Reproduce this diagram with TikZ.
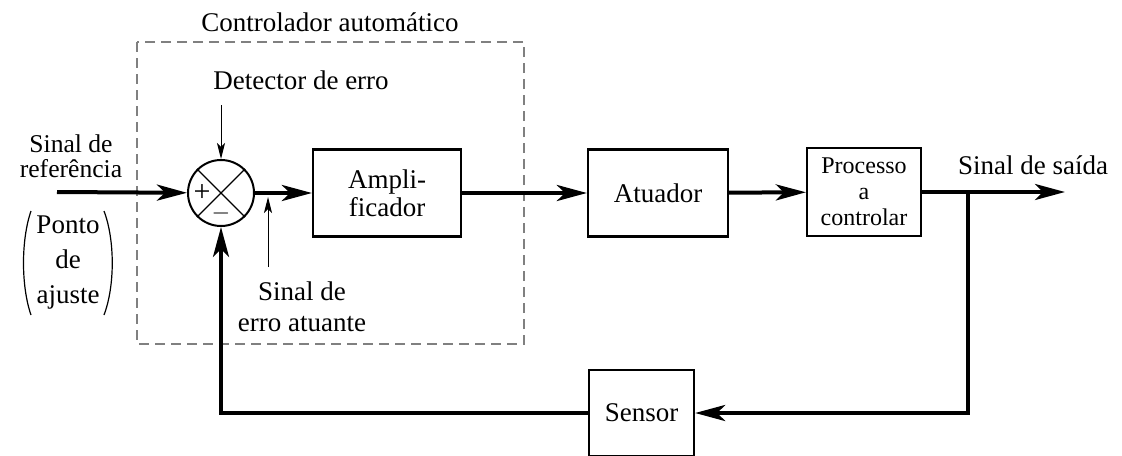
\documentclass[tikz,border=0pt]{standalone}
\usepackage{fontspec}
\setmainfont{Liberation Serif}
\usetikzlibrary{arrows.meta,positioning}

\begin{document}
\begin{tikzpicture}[x=0.5pt,y=-0.5pt,
    font=\fontsize{13.5}{15}\selectfont,
    bloco/.style={draw,line width=1.1pt,align=center,inner sep=0pt},
    sinal/.style={line width=2pt,-{Stealth[length=15pt,width=8pt,inset=4pt]}},
    fino/.style={line width=0.5pt,-{Stealth[length=8pt,width=4pt,inset=2pt]}},
    rotulo/.style={align=center,inner sep=0pt}]
\useasboundingbox (0,0) rectangle (1122,455);

% controlador automatico
\draw[gray,line width=0.6pt,dash pattern=on 5pt off 3pt] (137,42) rectangle (524,344);
\node[rotulo] (ctrl) at (330,22) {Controlador automático};

\node[draw,circle,line width=1pt,minimum size=33pt,inner sep=0pt] (soma) at (221,193) {};
\draw[line width=0.7pt] (soma.north west) -- (soma.south east)
                        (soma.north east) -- (soma.south west);
\node[inner sep=0pt,font=\fontsize{15}{15}\selectfont] (mais) at ([xshift=-9.5pt]soma.center) {+};
\node[inner sep=0pt,font=\fontsize{13}{13}\selectfont] (menos) at ([yshift=-10pt]soma.center) {$-$};

\node[bloco,minimum width=74pt,minimum height=43.5pt,font=\fontsize{13.5}{14}\selectfont] (ampl) at (387,193) {Ampli-\\ficador};
\node[bloco,minimum width=70pt,minimum height=43.5pt] (atua) at (658,193) {Atuador};
\node[bloco,minimum width=57pt,minimum height=44pt,font=\fontsize{12}{13}\selectfont] (proc) at (864,192) {Processo\\a\\controlar};
\node[bloco,minimum width=52.5pt,minimum height=43pt] (sens) at (641.5,413) {Sensor};

\coordinate (ent) at (57,192);
\coordinate (saida) at (1065,192);
\coordinate (ramo) at (968,192);
\coordinate (det) at (221,105);
\coordinate (erro) at (268,267);
\coordinate (erroTopo) at (268,197);

\draw[sinal] (ent) -- (soma);
\draw[sinal] (soma) -- (ampl);
\draw[sinal] (ampl) -- (atua);
\draw[sinal] (atua) -- (proc);
\draw[sinal] (proc) -- (saida);
\draw[sinal] (ramo) |- (sens);
\draw[sinal] (sens) -| (soma);
\draw[fino] (det) -- (soma);
\draw[fino] (erro) -- (erroTopo);

% rotulos
\node[rotulo] (detx) at (301,80) {Detector de erro};
\node[rotulo,font=\fontsize{12.8}{12.5}\selectfont] (ref) at (71,156) {Sinal de\\referência};
\node[rotulo,font=\fontsize{13.5}{17.5}\selectfont] (ajuste) at (68,263) {Ponto\\de\\ajuste};
\draw[line width=0.6pt] (31,211) .. controls (21,240) and (21,286) .. (31,315);
\draw[line width=0.6pt] (104,211) .. controls (115,240) and (115,286) .. (104,315);
\node[rotulo,font=\fontsize{13.5}{15.5}\selectfont] (errox) at (302,307) {Sinal de\\erro atuante};
\node[rotulo] (saidax) at (1033,165) {Sinal de saída};
\end{tikzpicture}
\end{document}
